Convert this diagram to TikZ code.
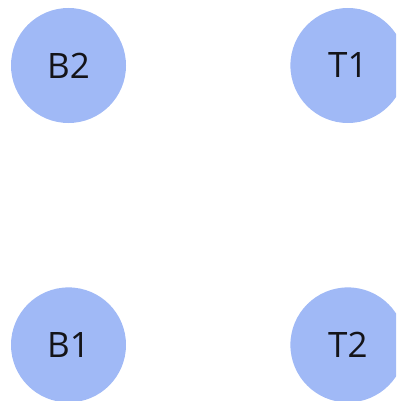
\documentclass[tikz,border=0pt]{standalone}
\usepackage{fontspec}
\setmainfont{Open Sans}
\usepackage{tikz}
\usetikzlibrary{positioning}
\definecolor{periwinkle}{RGB}{160,185,246}
\definecolor{inkblack}{RGB}{20,20,24}

\begin{document}
\begin{tikzpicture}[x=1pt,y=1pt,
  node distance=164pt and 164pt,
  vertex/.style={circle,fill=periwinkle,minimum size=115pt,inner sep=0pt,
    font=\fontsize{35}{40}\selectfont,text=inkblack}
]
\useasboundingbox (0,0) rectangle (396,-401);
\clip (0,0) rectangle (396,-401);
\node[vertex] (b2) at (68.5,-65.5) {B2};
\node[vertex,right=of b2] (t1) {T1};
\node[vertex,below=of b2] (b1) {B1};
\node[vertex,right=of b1] (t2) {T2};
\end{tikzpicture}
\end{document}
